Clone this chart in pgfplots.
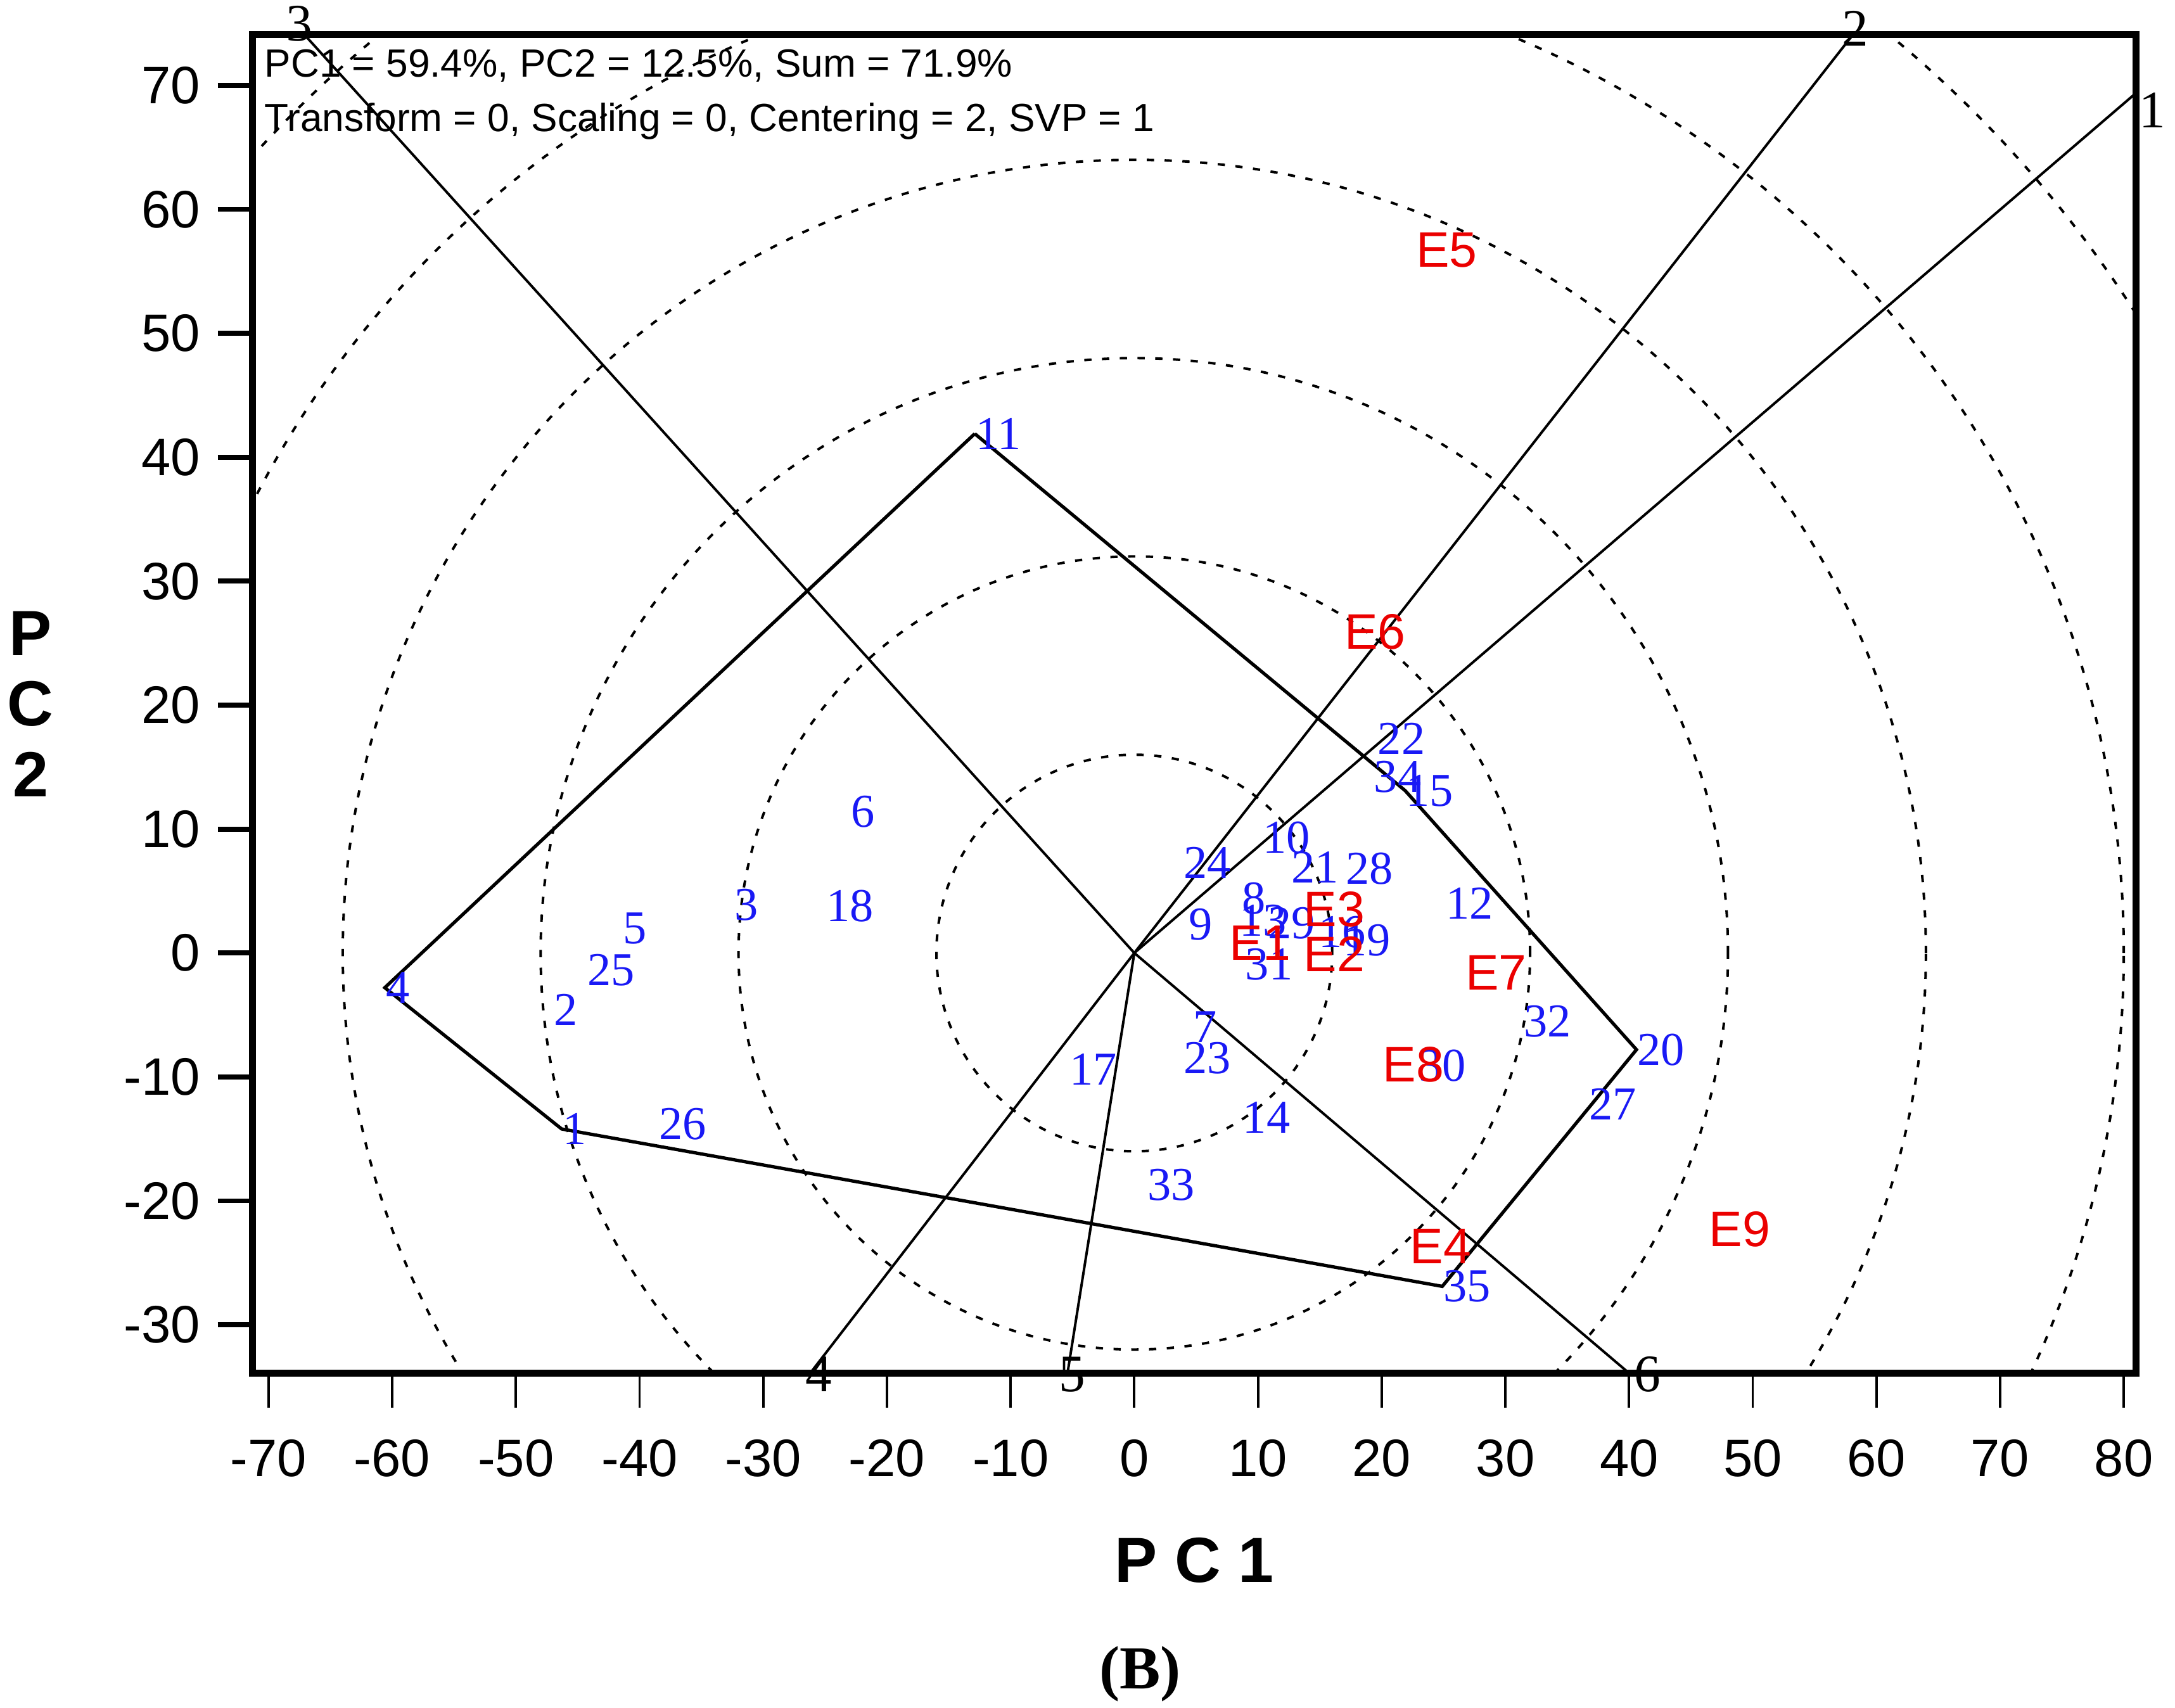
\documentclass[border=0pt]{standalone}
\usepackage{pgfplots}
\pgfplotsset{compat=1.18}
\usepackage{pgfplotstable}
\usepackage{fontspec}
\setmainfont{Liberation Sans}
\newfontfamily\timesf{Liberation Serif}
\definecolor{gblue}{RGB}{25,25,245}
\definecolor{ered}{RGB}{235,0,0}

% genotype points (label starts at the point)
\pgfplotstableread{
x y lab
-46.3 -14.2 1
-47.0 -4.6 2
-32.4 3.9 3
-60.6 -2.8 4
-41.4 2.0 5
-23.0 11.4 6
4.7 -6.0 7
8.6 4.4 8
4.3 2.3 9
10.3 9.3 10
-12.9 41.9 11
25.1 4.0 12
8.4 2.6 13
8.7 -13.3 14
21.9 13.1 15
14.8 1.7 16
-5.3 -9.4 17
-25.0 3.8 18
16.8 1.0 19
40.6 -7.8 20
12.6 6.9 21
19.6 17.3 22
3.9 -8.5 23
3.9 7.3 24
-44.3 -1.4 25
-38.5 -13.8 26
36.7 -12.2 27
17.0 6.8 28
10.7 2.4 29
22.9 -9.1 30
8.9 -0.9 31
31.4 -5.5 32
1.0 -18.7 33
19.3 14.2 34
24.9 -26.9 35
}\genotypes

% environments
\pgfplotstableread{
x y lab
7.6 0.8 E1
13.6 -0.1 E2
13.6 3.5 E3
22.2 -23.7 E4
22.7 56.7 E5
16.9 25.9 E6
26.7 -1.6 E7
20.0 -9.0 E8
46.4 -22.3 E9
}\environments

\begin{document}
\begin{tikzpicture}
\begin{axis}[
    name=ax,
    scale only axis,
    width=339.5pt, height=241.25pt,
    xmin=-71.3, xmax=81.0, ymin=-33.9, ymax=74.1,
    axis line style={line width=1.3pt},
    tick align=outside, major tick length=6.25pt,
    tick pos=left,
    xtick={-70,-60,...,80},
    xticklabels={-70,-60,-50,-40,-30,-20,-10,0,10,20,30,40,50,60,70,80},
    ytick={-30,-20,...,70},
    yticklabels={-30,-20,-10,0,10,20,30,40,50,60,70},
    xtick style={line width=0.45pt, black},
    ytick style={line width=0.9pt, black},
    ticklabel style={font=\fontsize{9.5}{11}\selectfont},
    xticklabel style={anchor=north, inner sep=0pt, yshift=-5.5pt},
    yticklabel style={anchor=east, inner sep=0pt, xshift=-3pt},
]
% concentric circles
\pgfplotsinvokeforeach{16,32,48,64,80,96}{
  \draw[black, line width=0.45pt, dash pattern=on 1.3pt off 1.9pt]
    (axis cs:0,0) ellipse [x radius=#1, y radius=#1];
}
% rays
\addplot[black, line width=0.45pt] coordinates {(0,0) (81.0,69.4)};
\addplot[black, line width=0.45pt] coordinates {(0,0) (58.1,74.1)};
\addplot[black, line width=0.45pt] coordinates {(0,0) (-67.1,74.1)};
\addplot[black, line width=0.45pt] coordinates {(0,0) (-26.2,-33.9)};
\addplot[black, line width=0.45pt] coordinates {(0,0) (-5.4,-33.9)};
\addplot[black, line width=0.45pt] coordinates {(0,0) (40.0,-33.9)};
% polygon
\addplot[black, line width=0.6pt] coordinates {
    (-12.9,41.9) (21.9,13.1) (40.6,-7.8) (24.9,-26.9)
    (-46.3,-14.2) (-60.6,-2.8) (-12.9,41.9)
};
% labels
\addplot[draw=none, mark=none, nodes near coords, point meta=explicit symbolic,
    every node near coord/.append style={anchor=west, inner sep=0pt,
        text=gblue, font=\timesf\fontsize{8.5}{9}\selectfont}]
    table[x=x, y=y, meta=lab] {\genotypes};
\addplot[draw=none, mark=none, nodes near coords, point meta=explicit symbolic,
    every node near coord/.append style={anchor=west, inner sep=0pt,
        text=ered, font=\fontsize{9}{10}\selectfont}]
    table[x=x, y=y, meta=lab] {\environments};

\node[anchor=west, inner sep=0pt, font=\fontsize{7.1}{8}\selectfont]
    at (axis cs:-70.4,71.6) {PC1 = 59.4\%, PC2 = 12.5\%, Sum = 71.9\%};
\node[anchor=west, inner sep=0pt, font=\fontsize{7.1}{8}\selectfont]
    at (axis cs:-70.4,67.1) {Transform = 0, Scaling = 0, Centering = 2, SVP = 1};

\coordinate (r1) at (axis cs:82.3,68.0);
\coordinate (r2) at (axis cs:58.3,74.6);
\coordinate (r3) at (axis cs:-67.5,75.0);
\coordinate (r4) at (axis cs:-25.5,-34.0);
\coordinate (r5) at (axis cs:-5.0,-34.0);
\coordinate (r6) at (axis cs:41.5,-34.0);
\end{axis}

\foreach \i in {1,...,6} {
  \node[inner sep=0pt, font=\timesf\fontsize{9.5}{10}\selectfont] at (r\i) {\i};
}
\node[font=\bfseries\fontsize{11.5}{12}\selectfont] at ([yshift=-33.75pt]ax.south) {P C 1};
\node[align=center, font=\bfseries\fontsize{11.5}{12.75}\selectfont] at ([xshift=-40pt]ax.west) {P\\C\\2};
\node[font=\timesf\bfseries\fontsize{11}{12}\selectfont] at ([xshift=-9.75pt,yshift=-54.25pt]ax.south) {(B)};

\pgfresetboundingbox
\path ([xshift=-45.5pt,yshift=-60.25pt]ax.south west) rectangle ([xshift=7pt,yshift=6.25pt]ax.north east);
\end{tikzpicture}
\end{document}
